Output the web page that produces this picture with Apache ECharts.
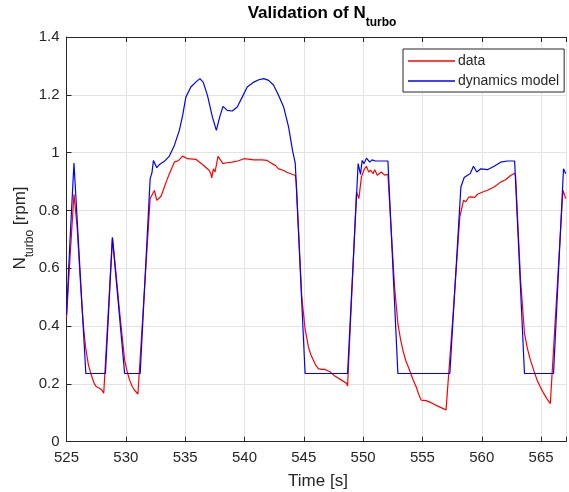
<!DOCTYPE html>
<html>
<head>
<meta charset="utf-8">
<script src="https://cdn.jsdelivr.net/npm/echarts@6/dist/echarts.min.js"></script>
<style>
html,body{margin:0;padding:0;background:#fff;}
#chart{width:569px;height:492px;}
</style>
</head>
<body>
<div id="chart"></div>
<script>
// ---- data ----
const xTicks = [525, 530, 535, 540, 545, 550, 555, 560, 565];
const yTicks = [0, 0.2, 0.4, 0.6, 0.8, 1, 1.2, 1.4];

const tData = [525.00,525.30,525.63,525.90,526.10,526.30,526.45,526.63,526.85,527.11,527.35,527.53,527.75,527.95,528.14,528.22,
  528.87,529.06,529.50,529.90,530.10,530.32,530.55,530.74,531.02,531.10,
  532.05,532.41,532.61,532.97,533.25,533.45,533.67,534.09,534.45,534.79,535.20,535.90,536.04,536.46,536.60,537.02,537.16,537.24,537.38,537.52,537.77,538.19,538.50,538.97,539.50,539.95,540.79,541.48,541.90,542.32,542.60,542.88,543.30,543.58,543.72,544.28,
  544.36,544.55,544.83,545.11,545.39,545.60,545.81,546.00,546.23,546.50,546.79,547.20,547.62,548.18,548.60,548.69,
  549.44,549.64,549.86,550.08,550.28,550.47,550.64,550.84,550.98,551.20,551.53,551.81,552.09,552.20,
  552.65,552.93,553.15,553.35,553.60,553.91,554.20,554.47,554.70,554.89,555.31,555.73,556.29,556.99,557.07,
  557.60,558.15,558.46,558.66,558.88,559.13,559.41,559.64,559.92,560.48,561.04,561.59,562.01,562.43,562.77,562.85,
  562.99,563.27,563.60,563.85,564.10,564.40,564.66,564.95,565.22,565.50,565.78,565.92,
  566.84,567.08];
const vData = [0.43,0.64,0.856,0.74,0.60,0.47,0.39,0.32,0.265,0.228,0.20,0.19,0.186,0.18,0.168,0.168,
  0.706,0.63,0.44,0.282,0.245,0.213,0.19,0.178,0.165,0.165,
  0.841,0.869,0.835,0.849,0.881,0.904,0.927,0.967,0.973,0.988,0.979,0.977,0.975,0.959,0.956,0.939,0.927,0.913,0.944,0.933,0.987,0.962,0.965,0.967,0.972,0.979,0.975,0.975,0.973,0.962,0.956,0.944,0.938,0.932,0.929,0.921,
  0.90,0.74,0.50,0.39,0.328,0.30,0.282,0.265,0.253,0.250,0.250,0.242,0.227,0.213,0.202,0.193,
  0.864,0.841,0.916,0.941,0.953,0.933,0.939,0.927,0.941,0.922,0.933,0.922,0.925,0.92,
  0.536,0.409,0.355,0.317,0.28,0.248,0.215,0.190,0.162,0.144,0.142,0.135,0.123,0.110,0.107,
  0.45,0.778,0.835,0.830,0.845,0.847,0.845,0.856,0.861,0.870,0.881,0.898,0.906,0.921,0.929,0.92,
  0.80,0.56,0.375,0.322,0.282,0.245,0.213,0.188,0.167,0.148,0.132,0.128,
  0.870,0.841];

const tModel = [525.00,525.30,525.63,526.63,528.28,528.87,529.90,531.21,532.05,532.20,532.33,532.61,532.84,532.95,533.25,533.67,534.09,534.51,534.79,535.06,535.48,535.90,536.24,536.52,536.88,537.30,537.63,537.91,538.19,538.55,538.97,539.39,539.81,540.23,540.79,541.21,541.62,542.04,542.46,542.88,543.30,543.72,544.05,544.28,
  545.11,548.69,549.58,549.78,549.92,550.08,550.28,550.42,550.56,550.75,551.03,551.53,552.09,552.17,
  552.93,557.31,558.24,558.52,558.80,559.02,559.30,559.58,559.92,560.48,561.04,561.59,562.15,562.77,562.85,
  563.60,566.05,566.89,567.08];
const vModel = [0.438,0.70,0.964,0.236,0.236,0.706,0.236,0.236,0.910,0.93,0.973,0.948,0.959,0.956,0.970,0.988,1.025,1.077,1.129,1.192,1.227,1.244,1.256,1.244,1.198,1.123,1.077,1.123,1.160,1.146,1.144,1.158,1.192,1.227,1.244,1.252,1.256,1.250,1.233,1.198,1.158,1.088,1.008,0.964,
  0.236,0.236,0.962,0.925,0.973,0.962,0.981,0.982,0.967,0.975,0.971,0.971,0.971,0.965,
  0.236,0.236,0.881,0.914,0.922,0.927,0.953,0.933,0.944,0.941,0.953,0.967,0.971,0.971,0.965,
  0.236,0.236,0.944,0.927];

const FONT = "'Liberation Sans', Arial, Helvetica, sans-serif";
const AX = '#262626';
const GRIDC = '#e3e3e3';

const chart = echarts.init(document.getElementById('chart'));
const xMin = xTicks[0], xMax = 567.1;
chart.setOption({
  animation: false,
  backgroundColor: '#fff',
  textStyle: {fontFamily: FONT},
  grid: {left: 66.5, right: 0, top: 37, bottom: 50.3},
  legend: {
    orient: 'vertical', left: 403, top: 49,
    padding: [4, 5, 3, 5], itemGap: 4, itemWidth: 47, itemHeight: 1.3,
    icon: 'rect',
    borderColor: AX, borderWidth: 1, backgroundColor: '#fff',
    textStyle: {fontSize: 14, color: AX, fontFamily: FONT, lineHeight: 16, padding: [0,0,0,-2]},
    data: ['data', 'dynamics model']
  },
  xAxis: [{
    type: 'value', min: xMin, max: xMax, interval: 5, position: 'bottom',
    axisLine: {show: true, onZero: false, lineStyle: {color: AX, width: 1}},
    axisTick: {show: true, inside: true, length: 5, lineStyle: {color: AX}},
    axisLabel: {fontSize: 15, color: AX, margin: 9, fontFamily: FONT,
      formatter: v => (xTicks.indexOf(Math.round(v*1000)/1000) >= 0 ? String(v) : '')},
    splitLine: {show: true, lineStyle: {color: GRIDC, width: 1}}
  }, {
    type: 'value', min: xMin, max: xMax, interval: 5, position: 'top',
    axisLine: {show: true, onZero: false, lineStyle: {color: AX, width: 1}},
    axisTick: {show: true, inside: true, length: 5, lineStyle: {color: AX}},
    axisLabel: {show: false},
    splitLine: {show: false}
  }],
  yAxis: {
    type: 'value', min: yTicks[0], max: yTicks[yTicks.length-1], interval: 0.2,
    axisLine: {show: true, onZero: false, lineStyle: {color: AX, width: 1}},
    axisTick: {show: true, inside: true, length: 5, lineStyle: {color: AX}},
    axisLabel: {fontSize: 15, color: AX, margin: 7, fontFamily: FONT},
    splitLine: {show: true, lineStyle: {color: GRIDC, width: 1}}
  },
  graphic: [
    {type: 'text', x: 322, y: 13, z: 100, style: {
      text: '{a|Validation of N}{b|turbo}', align: 'center', verticalAlign: 'middle', fill: '#000',
      rich: {
        a: {fontSize: 17, fontWeight: 'bold', fontFamily: FONT, lineHeight: 20, fill: '#000'},
        b: {fontSize: 12, fontWeight: 'bold', fontFamily: FONT, lineHeight: 20, padding: [20,0,0,0], fill: '#000'}
      }}},
    {type: 'text', x: 318, y: 481, z: 100, style: {
      text: 'Time [s]', fontSize: 17, fontFamily: FONT, fill: AX, align: 'center', verticalAlign: 'middle'}},
    {type: 'text', x: 20, y: 228, rotation: Math.PI/2, z: 100, style: {
      text: '{a|N}{b|turbo}{a| [rpm]}', align: 'center', verticalAlign: 'middle', fill: AX,
      rich: {
        a: {fontSize: 17, fontFamily: FONT, lineHeight: 20, fill: AX},
        b: {fontSize: 12, fontFamily: FONT, lineHeight: 20, padding: [20,0,0,0], fill: AX}
      }}}
  ],
  series: [{
    name: 'data', type: 'line', symbol: 'none', xAxisIndex: 0,
    lineStyle: {color: '#ff0000', width: 1.2}, itemStyle: {color: '#ff0000'},
    data: tData.map((t, i) => [t, vData[i]])
  }, {
    name: 'dynamics model', type: 'line', symbol: 'none', xAxisIndex: 0,
    lineStyle: {color: '#0000ff', width: 1.2}, itemStyle: {color: '#0000ff'},
    data: tModel.map((t, i) => [t, vModel[i]])
  }]
});
</script>
</body>
</html>
